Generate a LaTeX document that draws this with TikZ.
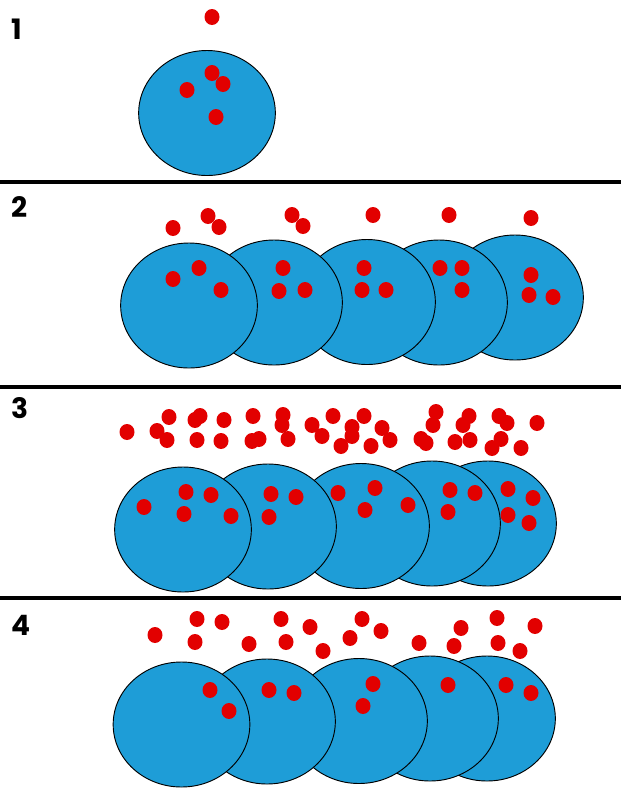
\documentclass[tikz,border=0pt]{standalone}
\usepackage{fontspec}
\setmainfont{Poppins}
\usepackage{tikz}
\definecolor{cellblue}{RGB}{30,157,215}
\definecolor{ionred}{RGB}{226,0,0}
\tikzset{
  cell/.style={draw=black, line width=0.8pt, fill=cellblue},
  ion/.style={fill=ionred},
  divider/.style={line width=4.2pt},
  panel/.style={anchor=west, inner sep=0pt, font=\fontsize{24}{24}\selectfont\bfseries}
}

\begin{document}
\begin{tikzpicture}[x=0.03cm, y=-0.03cm]
    \useasboundingbox (0,0) rectangle (621,798);
    % panel numbers
    \node[panel] (p1) at (11,29) {1};
    \node[panel] (p2) at (11,207) {2};
    \node[panel] (p3) at (11,408) {3};
    \node[panel] (p4) at (11,625) {4};
    % separators
    \draw[divider] (0,182) -- (621,182);
    \draw[divider] (0,387) -- (621,387);
    \draw[divider] (0,598) -- (621,598);
    % cells, back to front
    \foreach \x/\y in {207/113,
                       515/297.5, 439/302.5, 367/302, 274/302.5, 189/305.5,
                       488/523.5, 432/523.5, 361/526, 268/526.5, 183/529.5,
                       487/718.5, 430/718.5, 359/721, 267/721.5, 181.5/724.5}
        \fill[cell] (\x,\y) ellipse [x radius=2.05cm, y radius=1.875cm];
    % ions of panel 1
    \foreach \x/\y in {212/17, 212/73, 223/84, 187/90, 216/117}
        \fill[ion] (\x,\y) ellipse [x radius=0.225cm, y radius=0.24cm];
    % ions of panel 2
    \foreach \x/\y in {173/228, 208/216, 219/227, 292/215, 303/226, 373/215, 449/215, 531/218,
                       199/268, 173/279, 221/290, 283/268, 279/291, 305/290,
                       364/268, 362/290, 386/290, 440/268, 462/268, 462/290,
                       531/275, 529/295, 553/297}
        \fill[ion] (\x,\y) ellipse [x radius=0.225cm, y radius=0.24cm];
    % ions of panel 3
    \foreach \x/\y in {127/432, 157/431, 169/417, 167/440, 195/420, 200/416, 197/440, 224/420,
                       221/441, 253/416, 252/441, 259/439, 283/415, 282/425, 288/439, 312/425,
                       322/436, 333/416, 341/446, 352/427, 352/436, 364/416, 382/428, 371/446,
                       390/440, 436/412, 433/425, 421/439, 426/443, 469/416, 463/425, 455/442,
                       470/440, 499/416, 507/423, 537/423, 501/439, 492/448, 521/448,
                       144/507, 186/492, 211/495, 184/514, 231/516, 271/494, 296/497, 269/517,
                       338/493, 375/488, 365/510, 408/505, 450/490, 475/493, 448/512,
                       508/489, 533/498, 508/515, 529/523}
        \fill[ion] (\x,\y) ellipse [x radius=0.225cm, y radius=0.24cm];
    % ions of panel 4
    \foreach \x/\y in {155/635, 197/619, 222/622, 195/642, 249/644, 281/619, 286/642, 310/627,
                       323/651, 350/638, 362/619, 381/631, 419/643, 461/628, 454/646, 497/618,
                       498/643, 535/626, 520/651,
                       210/690, 229/711, 269/690, 294/693, 373/684, 363/706, 448/685,
                       506/685, 531/693}
        \fill[ion] (\x,\y) ellipse [x radius=0.225cm, y radius=0.24cm];
\end{tikzpicture}
\end{document}
